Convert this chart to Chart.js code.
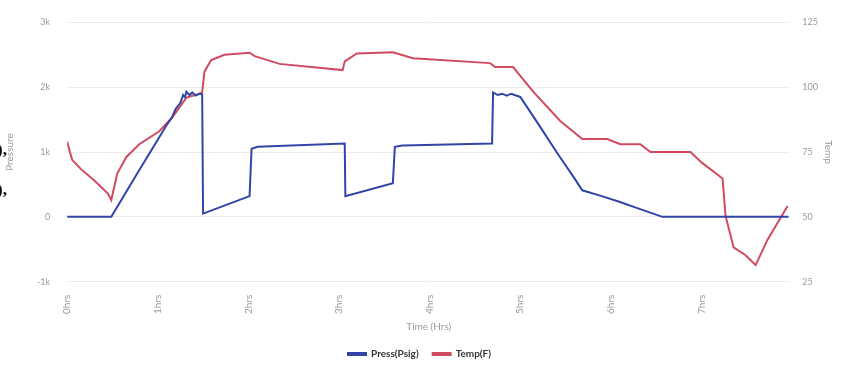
<!DOCTYPE html>
<html>
<head>
<meta charset="utf-8">
<script src="https://cdn.jsdelivr.net/npm/chart.js@4.4.1/dist/chart.umd.min.js"></script>
<style>
  html, body { margin: 0; padding: 0; background: #fff; }
  #wrap { position: relative; width: 846px; height: 371px; overflow: hidden; }
  .frag { position: absolute; left: -3px; font: bold 17px "Liberation Serif", serif; color: #111; }
</style>
</head>
<body>
<div id="wrap">
  <canvas id="chart" width="846" height="371"></canvas>
  <div class="frag" style="top:140px">),</div>
  <div class="frag" style="top:180px">),</div>
</div>
<script>
// time in hours, pressure in psig
const pressTime = [0, 0.487, 0.8, 1.0, 1.1, 1.15, 1.2, 1.25, 1.28, 1.3, 1.316, 1.35, 1.38, 1.42, 1.46, 1.49,
  1.5, 2.013, 2.035, 2.1, 3.063, 3.07, 3.594, 3.616, 3.7, 4.689, 4.7, 4.75, 4.8, 4.85, 4.9, 5.0,
  5.2, 5.4, 5.6, 5.684, 5.9, 6.1, 6.3, 6.568, 7.96];
const pressVals = [0, 0, 730, 1190, 1420, 1520, 1670, 1760, 1880, 1850, 1930, 1880, 1920, 1870, 1900, 1890,
  50, 320, 1050, 1080, 1130, 320, 520, 1080, 1100, 1130, 1920, 1880, 1900, 1870, 1900, 1850,
  1430, 1000, 590, 410, 320, 230, 130, 0, 0];

// time in hours, temperature in F
const tempTime = [0, 0.055, 0.15, 0.3, 0.45, 0.487, 0.553, 0.652, 0.796, 1.017, 1.161, 1.316, 1.46, 1.49,
  1.515, 1.59, 1.736, 2.013, 2.07, 2.344, 3.04, 3.063, 3.196, 3.594, 3.815, 4.667, 4.722, 4.921,
  5.142, 5.441, 5.684, 5.96, 6.104, 6.325, 6.436, 6.878, 7.0, 7.232, 7.265, 7.354, 7.486, 7.597, 7.73, 7.95];
const tempVals = [79, 72, 68.5, 64, 59, 56.5, 66.7, 73, 78, 83, 88.4, 96, 97.5, 98,
  106, 110.5, 112.5, 113.3, 112, 109, 106.6, 110, 113, 113.5, 111.2, 109.3, 107.8, 107.8,
  98.3, 87, 80, 80, 78, 78, 75, 75, 71, 64.8, 50.4, 38.2, 35.2, 31.4, 41.3, 54.2];

const pressTicks = [-1000, 0, 1000, 2000, 3000];
const tempTicks = [25, 50, 75, 100, 125];

const blue = '#3145a8';
const red = '#d04a60';
const tickColor = '#9a9a9a';

const toPoints = (xs, ys) => xs.map((x, i) => ({ x, y: ys[i] }));

new Chart(document.getElementById('chart'), {
  type: 'line',
  data: {
    datasets: [
      {
        label: 'Press(Psig)',
        data: toPoints(pressTime, pressVals),
        borderColor: blue,
        backgroundColor: blue,
        borderWidth: 2,
        pointRadius: 0,
        tension: 0,
        yAxisID: 'y'
      },
      {
        label: 'Temp(F)',
        data: toPoints(tempTime, tempVals),
        borderColor: red,
        backgroundColor: red,
        borderWidth: 2,
        pointRadius: 0,
        tension: 0,
        yAxisID: 'y1'
      }
    ]
  },
  options: {
    responsive: false,
    animation: false,
    layout: { autoPadding: false, padding: { left: 0, right: 7, top: 10, bottom: 2 } },
    plugins: {
      tooltip: { enabled: false },
      legend: {
        position: 'bottom',
        labels: {
          boxWidth: 18,
          boxHeight: 2,
          padding: 14,
          color: '#333',
          font: { family: 'Lato', size: 10, weight: 'bold' }
        }
      }
    },
    scales: {
      x: {
        type: 'linear',
        min: 0,
        max: 7.98,
        grid: { display: false },
        border: { display: false },
        ticks: {
          stepSize: 1,
          minRotation: 90,
          maxRotation: 90,
          padding: 5,
          color: tickColor,
          font: { family: 'Lato', size: 10 },
          callback: v => Number.isInteger(v) ? v + 'hrs' : ''
        },
        title: { display: true, text: 'Time (Hrs)', color: tickColor, font: { family: 'Lato', size: 10 }, padding: { top: 2, bottom: 2 } }
      },
      y: {
        position: 'left',
        min: pressTicks[0],
        max: pressTicks[pressTicks.length - 1],
        afterBuildTicks: axis => { axis.ticks = pressTicks.map(v => ({ value: v })); },
        grid: { color: '#ececec', drawTicks: false },
        border: { display: false },
        ticks: {
          color: tickColor,
          padding: 17,
          font: { family: 'Lato', size: 9 },
          callback: v => v === 0 ? '0' : (v / 1000) + 'k'
        },
        title: { display: true, text: 'Pressure', color: tickColor, font: { family: 'Lato', size: 10 } }
      },
      y1: {
        position: 'right',
        min: tempTicks[0],
        max: tempTicks[tempTicks.length - 1],
        afterBuildTicks: axis => { axis.ticks = tempTicks.map(v => ({ value: v })); },
        grid: { display: false },
        border: { display: false },
        ticks: { color: tickColor, padding: 4, font: { family: 'Lato', size: 9 } },
        title: { display: true, text: 'Temp', color: tickColor, font: { family: 'Lato', size: 10 }, padding: { top: 5, bottom: 0 } }
      }
    }
  }
});
</script>
</body>
</html>
